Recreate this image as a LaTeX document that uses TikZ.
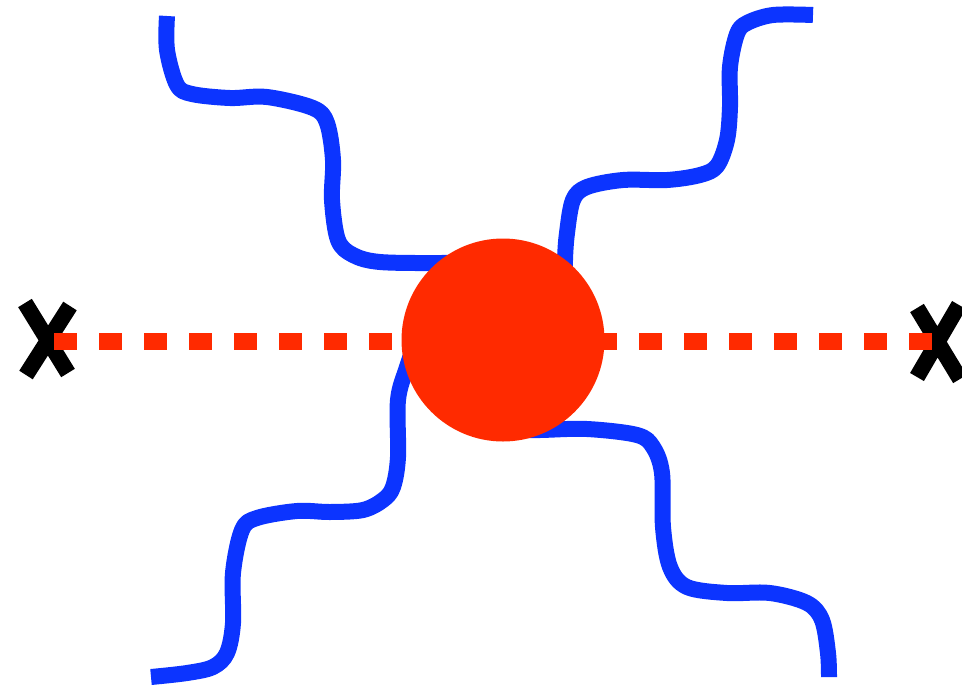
\documentclass[tikz,border=0pt]{standalone}
\definecolor{wblue}{RGB}{12,52,255}
\definecolor{bred}{RGB}{255,42,0}
\begin{document}
\begin{tikzpicture}[x=1pt,y=-1pt,
  wave/.style={draw=wblue,line width=16pt,line join=round,smooth,tension=0.55},
  prop/.style={draw=bred,line width=17pt,dash pattern=on 23pt off 22pt},
  cross/.style={draw=black,line width=16pt},
  blob/.style={circle,fill=bred,minimum size=203pt,inner sep=0pt}]
\useasboundingbox (0,0) rectangle (962,689);
% crosses
\coordinate (xl) at (47,339);
\coordinate (xr) at (937,342);
\draw[cross] (25,303) -- (68,373) (70,306) -- (26,375);
\draw[cross] (917,308) -- (960,379) (959,305) -- (917,377);
% propagator
\coordinate (pl) at (54,341);
\coordinate (pr) at (932,341);
\draw[prop] (pl) -- (pr);
% wavy lines
\coordinate (tl) at (167,16);
\coordinate (tr) at (813,15);
\coordinate (bl) at (151,677);
\coordinate (br) at (829,677);
\draw[wave] plot coordinates {(tl) (167,50) (177,85) (192,94) (230,98) (267,97) (313,108) (327,123) (333,160) (332,200) (338,240) (353,255) (380,262) (440,263) (480,262)};
\draw[wave] plot coordinates {(tr) (773,15) (747,23) (737,34) (730,67) (730,107) (727,140) (717,166) (700,175) (667,180) (623,180) (587,187) (573,200) (567,233) (565,260) (565,290)};
\draw[wave] plot coordinates {(420,330) (407,367) (398,400) (398,457) (393,487) (383,500) (363,510) (330,512) (297,511) (257,518) (242,530) (233,573) (233,623) (227,653) (213,667) (187,673) (bl)};
\draw[wave] plot coordinates {(510,430) (540,430) (587,429) (637,435) (653,447) (662,473) (663,527) (670,567) (687,587) (727,593) (770,593) (807,603) (822,620) (828,653) (br)};
% blob
\node[blob] (core) at (503,340) {};
\end{tikzpicture}
\end{document}
